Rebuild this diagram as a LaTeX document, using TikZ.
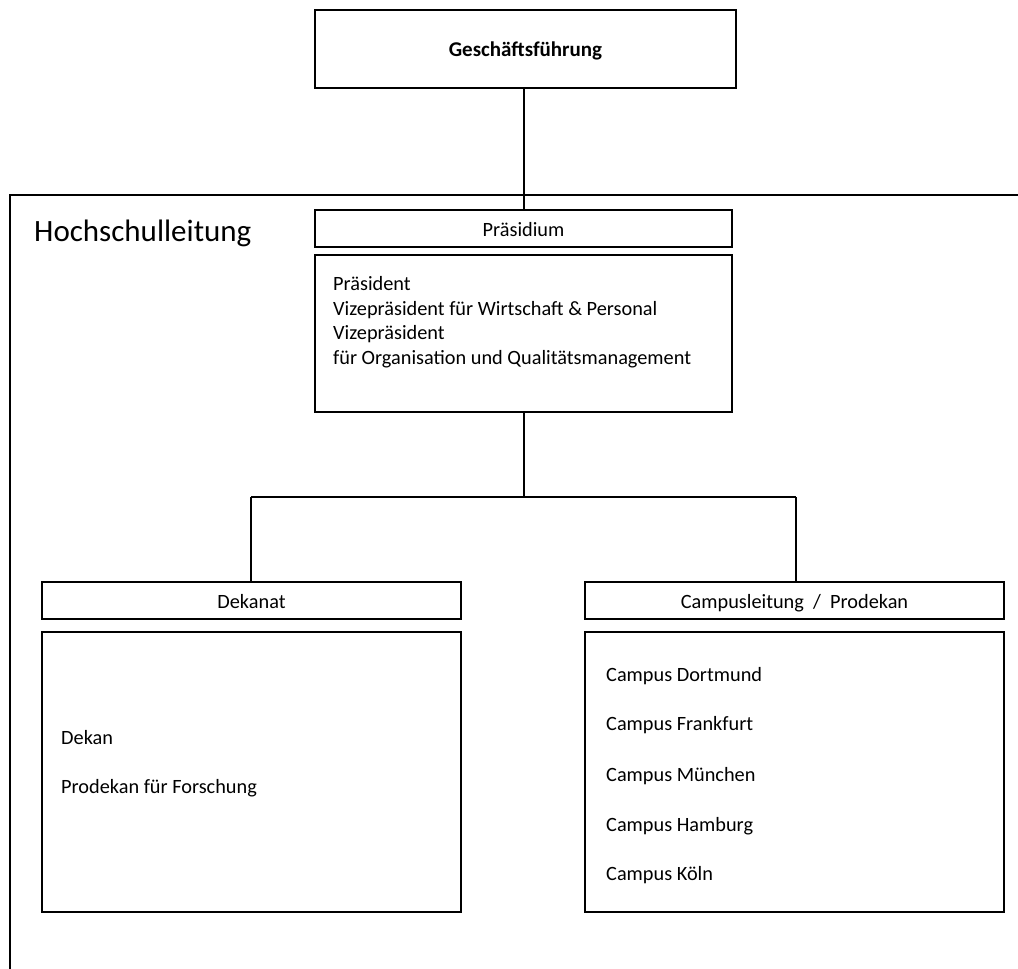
\documentclass[tikz,border=0pt]{standalone}
\usepackage{fontspec}
\setmainfont{Carlito}
\begin{document}
\begin{tikzpicture}[x=1pt,y=-1pt,
  box/.style={draw=black,line width=2.2pt,rectangle,inner sep=0pt},
  conn/.style={draw=black,line width=1.8pt},
  lbl/.style={inner sep=0pt,text height=19.5pt,text depth=4pt,font=\fontsize{20.3}{24}\selectfont},
  item/.style={inner sep=0pt,anchor=west,text height=19.5pt,text depth=4pt,font=\fontsize{20.3}{24}\selectfont}]
\useasboundingbox (0,0) rectangle (1018,969);
% Hochschulleitung frame
\coordinate (fbl) at (10,969);
\coordinate (ftl) at (10,195);
\coordinate (ftr) at (1018,195);
\draw[line width=2.2pt] (fbl) -- (ftl) -- (ftr);
\node[inner sep=0pt,anchor=west,text height=26pt,text depth=6pt,font=\fontsize{31}{34}\selectfont] (hl) at (34,231) {Hochschulleitung};
% Geschäftsführung
\node[box,minimum width=421pt,minimum height=78pt] (gf) at (525.5,49) {};
\node[lbl,font=\fontsize{21}{24}\selectfont\bfseries] (gft) at (gf.center) {Geschäftsführung};
% Präsidium
\node[box,minimum width=417pt,minimum height=37pt] (pr) at (523.5,228.5) {};
\node[lbl] (prt) at (pr.center) {Präsidium};
\node[box,minimum width=417pt,minimum height=157pt] (prm) at (523.5,333.5) {};
\node[item] (p1) at (333,283) {Präsident};
\node[item] (p2) at (333,308) {Vizepräsident für Wirtschaft \& Personal};
\node[item] (p3) at (333,332) {Vizepräsident};
\node[item] (p4) at (333,357) {für Organisation und Qualitätsmanagement};
% Dekanat
\node[box,minimum width=419pt,minimum height=37pt] (dk) at (251.5,600.5) {};
\node[lbl] (dkt) at (dk.center) {Dekanat};
\node[box,minimum width=419pt,minimum height=280pt] (dkm) at (251.5,772) {};
\node[item] (d1) at (61,737) {Dekan};
\node[item] (d2) at (61,786) {Prodekan für Forschung};
% Campusleitung
\node[box,minimum width=419pt,minimum height=37pt] (cl) at (794.5,600.5) {};
\node[lbl] (clt) at (cl.center) {Campusleitung~~/~~Prodekan};
\node[box,minimum width=419pt,minimum height=280pt] (clm) at (794.5,772) {};
\node[item] (c1) at (606,674) {Campus Dortmund};
\node[item] (c2) at (606,723) {Campus Frankfurt};
\node[item] (c3) at (606,774) {Campus München};
\node[item] (c4) at (606,824) {Campus Hamburg};
\node[item] (c5) at (606,873) {Campus Köln};
% connectors
\coordinate (jl) at (251,497);
\coordinate (jr) at (796,497);
\coordinate (jm) at (524,497);
\draw[conn] (gf.south -| 524,0) -- (pr.north -| 524,0);
\draw[conn] (prm.south -| 524,0) -- (jm);
\draw[conn] (jl) -- (jr);
\draw[conn] (jl) -- (dk.north -| jl);
\draw[conn] (jr) -- (cl.north -| jr);
\end{tikzpicture}
\end{document}
